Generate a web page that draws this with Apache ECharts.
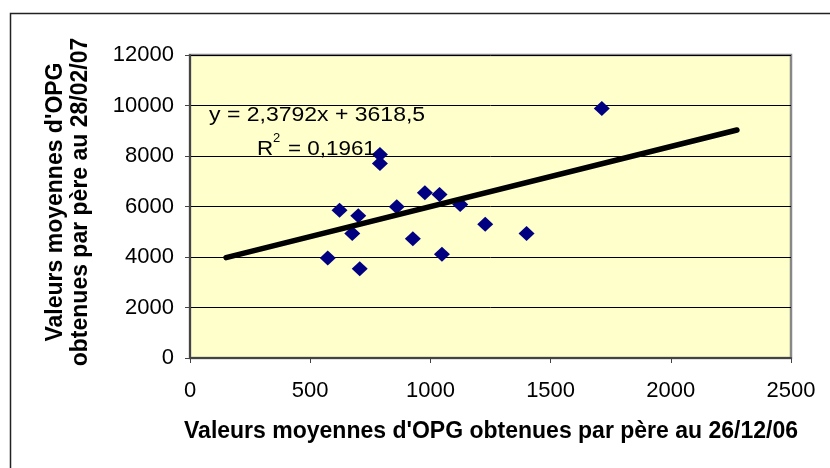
<!DOCTYPE html>
<html>
<head>
<meta charset="utf-8">
<script src="https://cdn.jsdelivr.net/npm/echarts@6/dist/echarts.min.js"></script>
<style>
  html, body { margin: 0; padding: 0; background: #fff; }
  #chart { width: 830px; height: 468px; }
</style>
</head>
<body>
<div id="chart"></div>
<script>
// OPG per father: 26/12/06 (x) vs 28/02/07 (y)
var opgDec = [1713, 790, 790, 977, 1038, 1124, 860, 622, 700, 675, 1228, 1400, 927, 1048, 573, 706];
var opgFeb = [9885, 8060, 7700, 6540, 6475, 6080, 5990, 5855, 5630, 4930, 5300, 4930, 4720, 4110, 3965, 3530];

// linear trendline as printed on the chart
var slope = 2.3792;
var intercept = 3618.5;
var trendRange = [150, 2275];

var xTicks = { min: 0, max: 2500, step: 500 };
var yTicks = { min: 0, max: 12000, step: 2000 };

var font = 'Liberation Sans, Arial, sans-serif';

var points = opgDec.map(function (x, i) { return [x, opgFeb[i]]; });
var trend = trendRange.map(function (x) { return [x, intercept + slope * x]; });

var chart = echarts.init(document.getElementById('chart'), null, { renderer: 'canvas' });

function plain(v) { return String(v); }

var option = {
  backgroundColor: '#fff',
  animation: false,
  grid: {
    left: 190, top: 55, width: 601, height: 303,
    show: true,
    backgroundColor: '#FFFFCC',
    borderColor: '#888',
    borderWidth: 2.5
  },
  xAxis: {
    type: 'value',
    min: xTicks.min, max: xTicks.max, interval: xTicks.step,
    axisLine: { show: true, onZero: false, lineStyle: { color: '#444', width: 2 } },
    axisTick: { show: true, inside: false, length: 5, lineStyle: { color: '#444', width: 1 } },
    axisLabel: { margin: 22, color: '#000', fontSize: 22, fontFamily: font, formatter: plain },
    splitLine: { show: false }
  },
  yAxis: {
    type: 'value',
    min: yTicks.min, max: yTicks.max, interval: yTicks.step,
    axisLine: { show: true, onZero: false, lineStyle: { color: '#444', width: 2 } },
    axisTick: { show: true, inside: false, length: 5, lineStyle: { color: '#444', width: 1 } },
    axisLabel: { margin: 16, color: '#000', fontSize: 22, fontFamily: font, formatter: plain },
    splitLine: { show: true, lineStyle: { color: '#000', width: 1 } }
  },
  series: [
    {
      type: 'scatter',
      data: points,
      symbol: 'diamond',
      symbolSize: [16, 15],
      itemStyle: { color: '#000080', opacity: 1 },
      z: 2
    },
    {
      type: 'line',
      data: trend,
      showSymbol: false,
      symbol: 'none',
      lineStyle: { color: '#000', width: 5.5, cap: 'round' },
      z: 3
    }
  ],
  graphic: [
    {
      type: 'rect',
      shape: { x: 10.5, y: 13.5, width: 840, height: 480 },
      style: { fill: 'none', stroke: '#222', lineWidth: 1.5 },
      z: 10
    },
    {
      type: 'text',
      x: 491, y: 432,
      style: {
        text: "Valeurs moyennes d'OPG obtenues par père au 26/12/06",
        font: 'bold 23px ' + font,
        fill: '#000',
        textAlign: 'center',
        textVerticalAlign: 'middle'
      },
      z: 10
    },
    {
      type: 'text',
      x: 68, y: 202,
      rotation: Math.PI / 2,
      style: {
        text: "Valeurs moyennes d'OPG\nobtenues par père au 28/02/07",
        font: 'bold 23px ' + font,
        lineHeight: 25,
        fill: '#000',
        textAlign: 'center',
        textVerticalAlign: 'middle'
      },
      z: 10
    },
    {
      type: 'text',
      x: 209, y: 115,
      scaleX: 1.15,
      style: {
        text: 'y = 2,3792x + 3618,5',
        font: '20px ' + font,
        fill: '#000',
        textAlign: 'left',
        textVerticalAlign: 'middle'
      },
      z: 10
    },
    {
      type: 'text',
      x: 257, y: 149,
      scaleX: 1.12,
      style: {
        text: 'R',
        font: '20px ' + font,
        fill: '#000',
        textAlign: 'left',
        textVerticalAlign: 'middle'
      },
      z: 10
    },
    {
      type: 'text',
      x: 273, y: 138,
      style: {
        text: '2',
        font: '13px ' + font,
        fill: '#000',
        textAlign: 'left',
        textVerticalAlign: 'middle'
      },
      z: 10
    },
    {
      type: 'text',
      x: 288, y: 149,
      scaleX: 1.12,
      style: {
        text: '= 0,1961',
        font: '20px ' + font,
        fill: '#000',
        textAlign: 'left',
        textVerticalAlign: 'middle'
      },
      z: 10
    }
  ]
};

chart.setOption(option);
</script>
</body>
</html>
